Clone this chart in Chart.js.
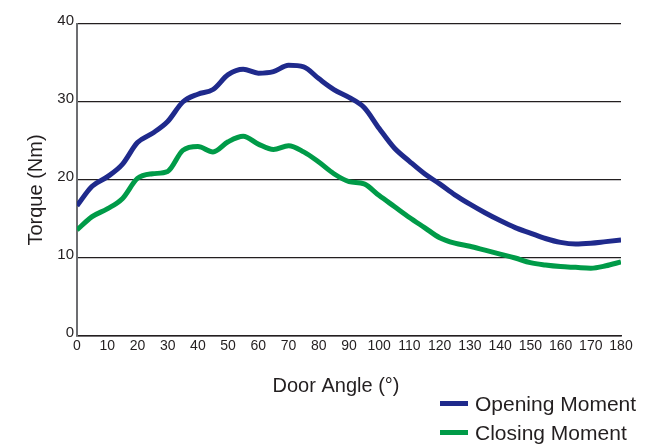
<!DOCTYPE html>
<html>
<head>
<meta charset="utf-8">
<script src="https://cdn.jsdelivr.net/npm/chart.js@4"></script>
<style>
  html, body { margin: 0; padding: 0; background: #fff; }
  #wrap { position: relative; width: 645px; height: 448px; }
  #legend { position: absolute; left: 440px; top: 389px; font-family: "Liberation Sans", Arial, sans-serif; font-size: 21px; color: #231f20; }
  #legend div { display: flex; align-items: center; height: 29px; }
  #legend span.sw { display: inline-block; width: 28px; height: 5px; margin-right: 7px; }
</style>
</head>
<body>
<div id="wrap">
  <canvas id="chart" width="645" height="448"></canvas>
  <div id="legend"></div>
</div>
<script>
// Door angle (degrees) and torque (Nm)
const angles  = [0, 5, 10, 15, 20, 25, 30, 35, 40, 45, 50, 55, 60, 65, 70, 75, 80, 85, 90, 95,
                 100, 105, 110, 115, 120, 125, 130, 135, 140, 145, 150, 155, 160, 165, 170, 175, 180];
const opening = [16.7, 19.2, 20.4, 22.0, 24.8, 26.0, 27.5, 30.0, 31.0, 31.6, 33.5, 34.2, 33.7, 33.9, 34.7, 34.5,
                 33.0, 31.6, 30.6, 29.3, 26.6, 24.1, 22.4, 20.8, 19.5, 18.1, 16.9, 15.8, 14.8, 13.9, 13.2,
                 12.5, 12.0, 11.8, 11.9, 12.1, 12.3];
const closing = [13.6, 15.3, 16.3, 17.6, 20.2, 20.8, 21.1, 23.8, 24.3, 23.6, 24.9, 25.6, 24.6, 23.9, 24.4, 23.6,
                 22.3, 20.8, 19.8, 19.5, 18.0, 16.6, 15.2, 13.9, 12.6, 11.9, 11.5, 11.0, 10.5, 10.0, 9.4,
                 9.1, 8.9, 8.8, 8.7, 9.0, 9.5];
const xTicks = [0, 10, 20, 30, 40, 50, 60, 70, 80, 90, 100, 110, 120, 130, 140, 150, 160, 170, 180];
const yTicks = [0, 10, 20, 30, 40];

const seriesNames = ['Opening Moment', 'Closing Moment'];
const seriesColors = ['#1f2a8c', '#009b48'];
const xTitle = 'Door Angle (°)';
const yTitle = 'Torque (Nm)';

const font = '"Liberation Sans", Arial, sans-serif';

// axis titles sit off-centre in the original, so draw them where they are
const axisTitles = {
  id: 'axisTitles',
  afterDraw(chart) {
    const ctx = chart.ctx;
    ctx.save();
    ctx.fillStyle = '#231f20';
    ctx.font = '20px ' + font;
    ctx.textAlign = 'center';
    ctx.textBaseline = 'middle';
    ctx.fillText(xTitle, 336, 386);
    ctx.translate(36, 190);
    ctx.rotate(-Math.PI / 2);
    ctx.fillText(yTitle, 0, 0);
    ctx.restore();
  }
};

new Chart(document.getElementById('chart'), {
  type: 'line',
  data: {
    datasets: [
      {
        label: seriesNames[0],
        data: angles.map((a, i) => ({ x: a, y: opening[i] })),
        borderColor: seriesColors[0],
        borderWidth: 5,
        pointRadius: 0,
        cubicInterpolationMode: 'monotone'
      },
      {
        label: seriesNames[1],
        data: angles.map((a, i) => ({ x: a, y: closing[i] })),
        borderColor: seriesColors[1],
        borderWidth: 5,
        pointRadius: 0,
        cubicInterpolationMode: 'monotone'
      }
    ]
  },
  options: {
    responsive: false,
    animation: false,
    layout: { padding: { top: 24, right: 24, left: 0, bottom: 0 } },
    plugins: { legend: { display: false }, tooltip: { enabled: false } },
    scales: {
      x: {
        type: 'linear',
        min: 0,
        max: 180,
        afterBuildTicks: s => { s.ticks = xTicks.map(v => ({ value: v })); },
        afterFit: s => { s.height = 112; },
        grid: { display: false, drawTicks: false },
        border: { color: '#231f20', width: 1.5 },
        ticks: { color: '#231f20', font: { family: font, size: 14 }, padding: 2, maxRotation: 0, autoSkip: false }
      },
      y: {
        min: 0,
        max: 40,
        afterBuildTicks: s => { s.ticks = yTicks.map(v => ({ value: v })); },
        afterFit: s => { s.width = 77; },
        grid: { color: '#231f20', lineWidth: 1.2, drawTicks: false },
        border: { color: '#6d6e71', width: 2 },
        ticks: { color: '#231f20', font: { family: font, size: 15 }, padding: 3, labelOffset: -3 }
      }
    }
  },
  plugins: [axisTitles]
});

// Legend below the plot, at the right
const legend = document.getElementById('legend');
seriesNames.forEach((name, i) => {
  legend.innerHTML += `<div><span class="sw" style="background:${seriesColors[i]}"></span>${name}</div>`;
});
</script>
</body>
</html>
